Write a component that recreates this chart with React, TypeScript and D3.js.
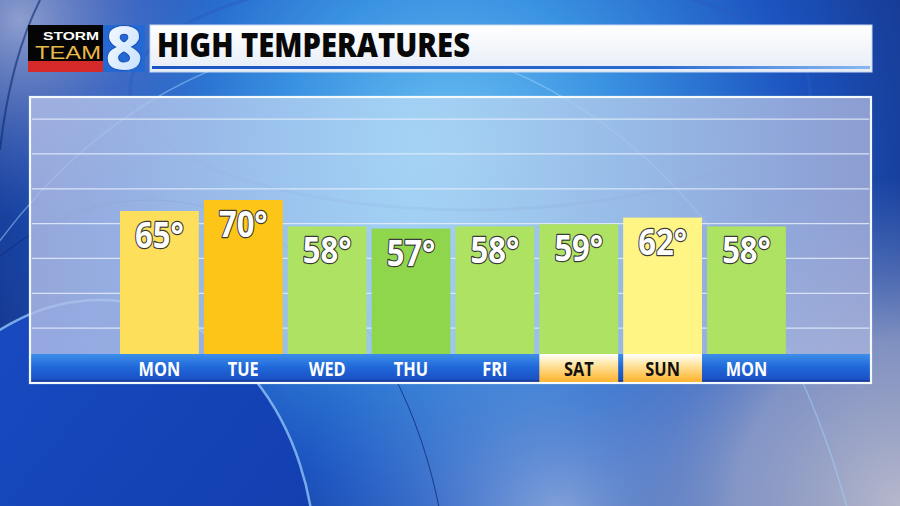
import React from 'react';
import * as d3 from 'd3';

// forecast highs
const days = ['MON', 'TUE', 'WED', 'THU', 'FRI', 'SAT', 'SUN', 'MON'];
const highs = [65, 70, 58, 57, 58, 59, 62, 58];
const barColors = ['#fddf5c', '#fdc517', '#ade262', '#8fd64d', '#ade262', '#ade262', '#fff584', '#ade262'];
const weekend = [false, false, false, false, false, true, true, false];
// background guide lines, in degrees on the bar scale
const gridValues = [11.8, 27.6, 43.5, 59.3, 75.1, 91, 106.8];

const title = 'HIGH TEMPERATURES';

const W = 900;
const H = 506;
const panel = { x0: 30, x1: 871, y0: 97, y1: 383 };
const baseY = 354;

const App: React.FC = () => {
  const x = d3
    .scaleBand<number>()
    .domain(d3.range(days.length))
    .range([117.5, 788.4])
    .paddingInner(0.06)
    .paddingOuter(0.03);
  const y = d3.scaleLinear().domain([0, 70]).range([baseY, 200]);

  const labelFont = "'Open Sans', 'DejaVu Sans', sans-serif";
  const logoFont = "'Liberation Sans', Arial, sans-serif";

  return (
    <svg width={W} height={H} style={{ position: 'absolute', left: 0, top: 0 }}>
      <defs>
        <radialGradient id="bg" cx="450" cy="150" r="560" gradientUnits="userSpaceOnUse">
          <stop offset="0" stopColor="#6cc2f2" />
          <stop offset="0.3" stopColor="#3a92e2" />
          <stop offset="0.62" stopColor="#1c54c0" />
          <stop offset="1" stopColor="#132c7a" />
        </radialGradient>
        <radialGradient id="bgCorner" cx="900" cy="506" r="330" gradientUnits="userSpaceOnUse">
          <stop offset="0" stopColor="#b6b8cc" stopOpacity="1" />
          <stop offset="0.5" stopColor="#9aa6cc" stopOpacity="0.8" />
          <stop offset="1" stopColor="#6a86c8" stopOpacity="0" />
        </radialGradient>
        <radialGradient id="bgBottom" cx="560" cy="520" r="260" gradientUnits="userSpaceOnUse">
          <stop offset="0" stopColor="#9ab4e0" stopOpacity="0.85" />
          <stop offset="1" stopColor="#4a86d8" stopOpacity="0" />
        </radialGradient>
        <radialGradient id="bgTopLeft" cx="20" cy="20" r="200" gradientUnits="userSpaceOnUse">
          <stop offset="0" stopColor="#9aa8d4" stopOpacity="0.9" />
          <stop offset="1" stopColor="#5a74c0" stopOpacity="0" />
        </radialGradient>
        <linearGradient id="swoosh" x1="0" y1="0" x2="1" y2="1">
          <stop offset="0" stopColor="#1a4cc4" />
          <stop offset="1" stopColor="#0f3aa8" />
        </linearGradient>
        <linearGradient id="panelFill" x1="0" y1="0" x2="1" y2="0">
          <stop offset="0" stopColor="#b0bce6" />
          <stop offset="0.45" stopColor="#b2d8f6" />
          <stop offset="1" stopColor="#a6b0da" />
        </linearGradient>
        <linearGradient id="band" x1="0" y1="0" x2="0" y2="1">
          <stop offset="0" stopColor="#3d8eea" />
          <stop offset="0.5" stopColor="#1f66d8" />
          <stop offset="1" stopColor="#1a4cc0" />
        </linearGradient>
        <linearGradient id="gold" x1="0" y1="0" x2="0" y2="1">
          <stop offset="0" stopColor="#ffffff" />
          <stop offset="0.35" stopColor="#ffe7a8" />
          <stop offset="1" stopColor="#ffb22a" />
        </linearGradient>
        <linearGradient id="titleBox" x1="0" y1="0" x2="0" y2="1">
          <stop offset="0" stopColor="#ffffff" />
          <stop offset="1" stopColor="#e6ecf6" />
        </linearGradient>
        <linearGradient id="titleLine" x1="0" y1="0" x2="1" y2="0">
          <stop offset="0" stopColor="#1b55c0" />
          <stop offset="0.7" stopColor="#2a6ad0" />
          <stop offset="1" stopColor="#8ab8f0" />
        </linearGradient>
        <linearGradient id="eight" x1="0" y1="0" x2="1" y2="1">
          <stop offset="0" stopColor="#ffffff" />
          <stop offset="1" stopColor="#bcdcff" />
        </linearGradient>
      </defs>

      {/* background */}
      <rect x={0} y={0} width={W} height={H} fill="url(#bg)" />
      <rect x={0} y={0} width={W} height={H} fill="url(#bgBottom)" />
      <rect x={0} y={0} width={W} height={H} fill="url(#bgCorner)" />
      <rect x={0} y={0} width={W} height={H} fill="url(#bgTopLeft)" />
      <ellipse cx={100} cy={560} rx={215} ry={260} fill="url(#swoosh)" />
      <ellipse cx={100} cy={560} rx={215} ry={260} fill="none" stroke="#9fd4ff" strokeWidth={2.5} opacity={0.7} />
      <ellipse cx={150} cy={620} rx={300} ry={420} fill="none" stroke="#0e2a78" strokeWidth={1} opacity={0.8} />
      <ellipse cx={360} cy={760} rx={520} ry={720} fill="none" stroke="#9fd4ff" strokeWidth={1.5} opacity={0.5} />
      <ellipse cx={470} cy={90} rx={340} ry={120} fill="none" stroke="#2a5cc0" strokeWidth={3} opacity={0.5} />
      <path d="M40,0 Q10,60 0,150" fill="none" stroke="#0c2a70" strokeWidth={2} opacity={0.6} />

      {/* header: logo */}
      <rect x={28} y={25} width={75} height={36} fill="#050505" />
      <rect x={28} y={61} width={75} height={11} fill="#d42a2a" />
      <text x={71} y={39.5} fill="#fff" fontFamily={logoFont} fontWeight={700} fontSize={11.5}
        textAnchor="middle" textLength={56} lengthAdjust="spacingAndGlyphs">STORM</text>
      <text x={68} y={58.5} fill="#e8b84a" fontFamily={logoFont} fontWeight={400} fontSize={18}
        textAnchor="middle" textLength={66} lengthAdjust="spacingAndGlyphs">TEAM</text>
      <rect x={103} y={25} width={42} height={47} fill="#2468d4" />
      <text x={124} y={70} fill="url(#eight)" stroke="#1850b8" strokeWidth={1} fontFamily={labelFont}
        fontWeight={800} fontSize={62} textAnchor="middle" textLength={38} lengthAdjust="spacingAndGlyphs">8</text>

      {/* header: title box */}
      <rect x={150} y={25} width={722} height={47} fill="url(#titleBox)" stroke="#c8d8f0" strokeWidth={1} />
      <rect x={152} y={66} width={718} height={3} fill="url(#titleLine)" />
      <text x={157} y={57} fill="#080808" fontFamily={labelFont} fontWeight={800} fontSize={33}
        textLength={313} lengthAdjust="spacingAndGlyphs">{title}</text>

      {/* chart panel */}
      <rect x={panel.x0} y={panel.y0} width={panel.x1 - panel.x0} height={panel.y1 - panel.y0}
        fill="url(#panelFill)" fillOpacity={0.82} />
      {gridValues.map((g, i) => (
        <line key={i} x1={panel.x0 + 2} x2={panel.x1 - 2} y1={y(g)} y2={y(g)}
          stroke="#e6eefc" strokeWidth={1.3} opacity={0.85} />
      ))}

      {/* day band */}
      <rect x={panel.x0 + 1} y={baseY} width={panel.x1 - panel.x0 - 2} height={panel.y1 - baseY - 1} fill="url(#band)" />
      <rect x={panel.x0 + 1} y={panel.y1 - 3} width={panel.x1 - panel.x0 - 2} height={2} fill="#163e9c" />
      {days.map((d, i) =>
        weekend[i] ? (
          <rect key={i} x={x(i)!} y={baseY} width={x.bandwidth()} height={panel.y1 - baseY - 1} fill="url(#gold)" />
        ) : null
      )}

      {/* bars */}
      {highs.map((v, i) => (
        <rect key={i} x={x(i)!} y={y(v)} width={x.bandwidth()} height={baseY - y(v)} fill={barColors[i]} />
      ))}

      {/* value labels */}
      {highs.map((v, i) => (
        <g key={i} transform={`translate(${x(i)! + x.bandwidth() / 2},${y(v) + 37}) scale(0.86,1)`}>
          <text textAnchor="middle" fill="#fff" stroke="#3a3a3a" strokeWidth={2.4} paintOrder="stroke"
            strokeLinejoin="round" fontFamily={labelFont} fontWeight={700} fontSize={36}>
            {v}°
          </text>
        </g>
      ))}

      {/* day labels */}
      {days.map((d, i) => (
        <g key={i} transform={`translate(${x(i)! + x.bandwidth() / 2},376) scale(0.86,1)`}>
          <text textAnchor="middle" fill={weekend[i] ? '#111' : '#fff'} fontFamily={labelFont}
            fontWeight={700} fontSize={19}>
            {d}
          </text>
        </g>
      ))}

      {/* panel frame */}
      <rect x={panel.x0} y={panel.y0} width={panel.x1 - panel.x0} height={panel.y1 - panel.y0}
        fill="none" stroke="#f4f8ff" strokeWidth={2.2} />
    </svg>
  );
};

export default App;
